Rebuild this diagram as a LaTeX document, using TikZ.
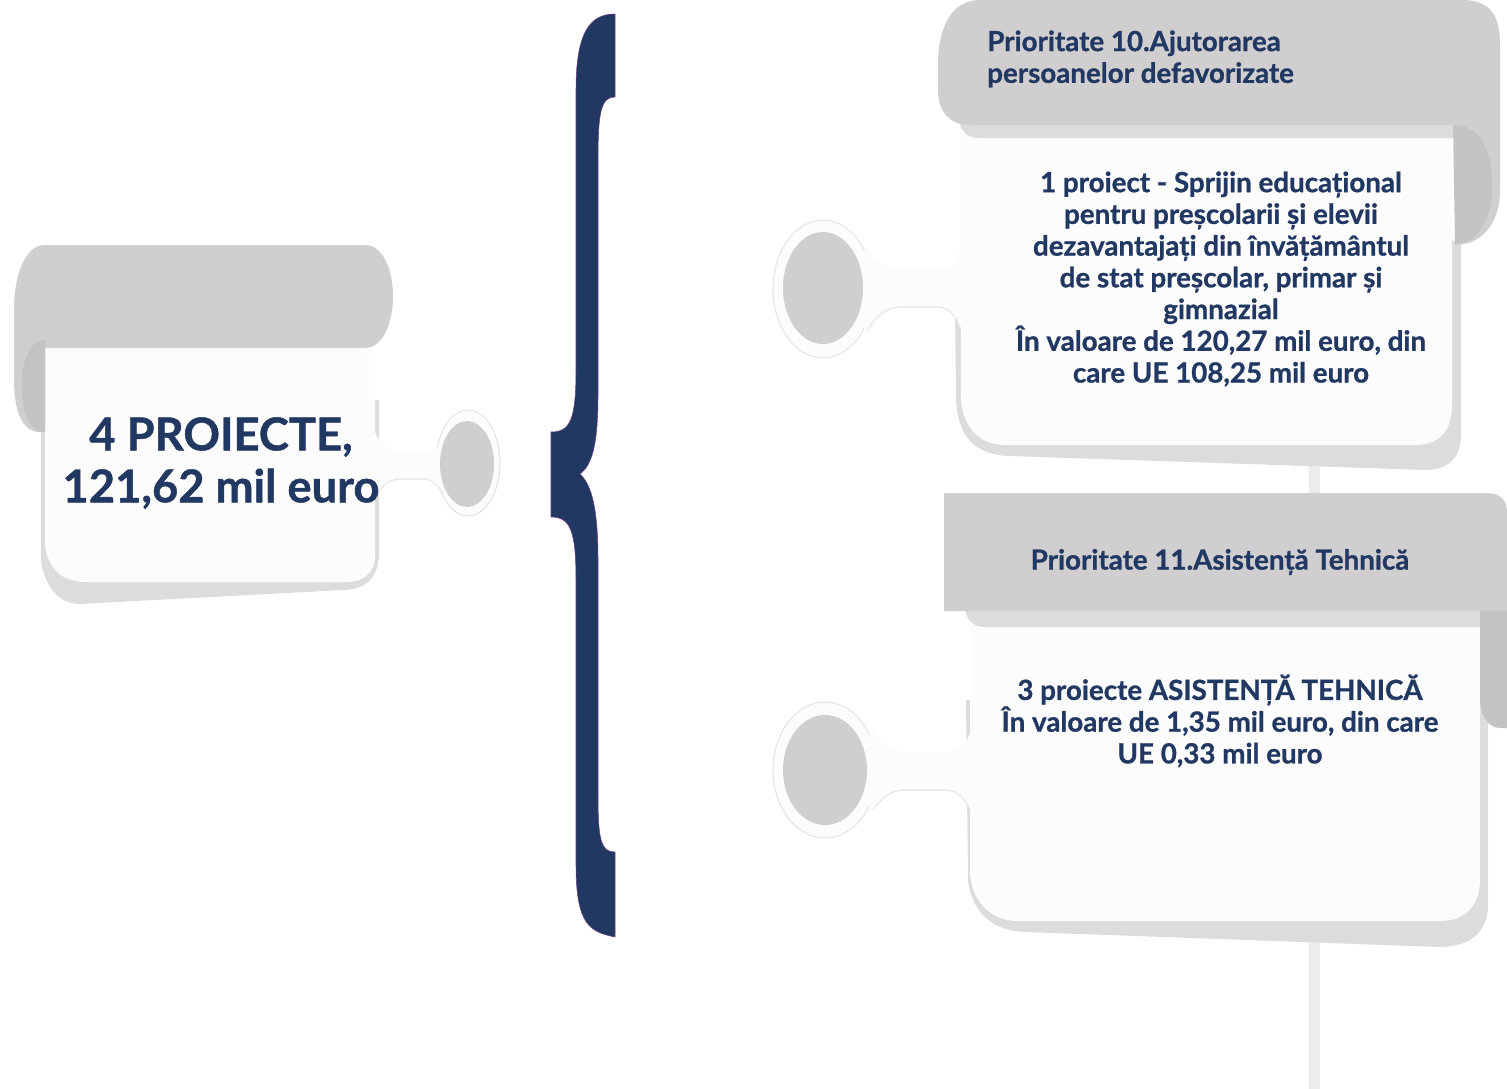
\documentclass[tikz,border=0pt]{standalone}
\usepackage{fontspec}
\setmainfont{Lato}[BoldFeatures={FakeBold=0.9}]
\usepackage{tikz}
\usetikzlibrary{positioning}
\usepackage{color}

\definecolor{navy}{RGB}{33,56,99}
\definecolor{bracerim}{RGB}{110,60,130}
\definecolor{rollgray}{RGB}{208,206,207}
\definecolor{curlgray}{RGB}{196,195,196}
\definecolor{shadegray}{RGB}{220,220,220}
\definecolor{paperwhite}{RGB}{252,252,252}
\definecolor{ringline}{RGB}{228,228,228}
\definecolor{trackgray}{RGB}{236,236,236}

\tikzset{
  scrollroll/.style={fill=rollgray},
  scrollcurl/.style={fill=curlgray},
  scrollshade/.style={fill=shadegray},
  scrollpaper/.style={fill=paperwhite},
  knobring/.style={fill=paperwhite, draw=ringline, line width=0.8pt},
  knobcore/.style={fill=rollgray},
  knobedge/.style={draw=ringline, line width=0.8pt},
  scrolltext/.style={text=navy, inner sep=0pt, align=center,
    font=\bfseries\fontsize{20.8}{23.8}\selectfont}
}

\begin{document}
\begin{tikzpicture}[x=0.75pt, y=-0.75pt]
\useasboundingbox (0,0) rectangle (1507,1089);

% track behind the right scrolls
\path [fill=trackgray] (1309,440) rectangle (1320,1089);

% left scroll
\path [scrollshade] (41,400) -- (379,400) -- (379,555) .. controls (378,578) and (365,590) .. (343,590) -- (80,604) .. controls (58,604) and (44,585) .. (41,560) -- cycle;
\path [scrollpaper] (45,345) -- (375,345) -- (375,555) .. controls (375,572) and (365,582) .. (345,582) -- (85,582) .. controls (60,582) and (45,565) .. (45,540) -- cycle;
\path [scrollroll] (45,245) -- (365,245) .. controls (382,245) and (393,268) .. (393,296) .. controls (393,325) and (382,348) .. (365,348) -- (45,348) -- (45,432) -- (40,432) .. controls (24,432) and (14,415) .. (14,380) -- (14,310) .. controls (14,275) and (25,245) .. (45,245) -- cycle;
\path [scrollcurl] (45,340) .. controls (30,340) and (22,360) .. (22,385) .. controls (22,415) and (30,432) .. (45,432) -- cycle;

\draw [knobring] (468,463) ellipse [x radius=32, y radius=53];
\path [scrollpaper] (373,428) .. controls (380,446) and (390,451) .. (405,451) -- (425,451) .. controls (435,451) and (440,446) .. (444,440) -- (455,463) -- (444,496) .. controls (438,485) and (432,479) .. (425,479) -- (400,479) .. controls (390,479) and (382,486) .. (376,496) -- cycle;
\draw [knobedge] (377,494) .. controls (383,485) and (390,479) .. (400,479) -- (425,479) .. controls (432,479) and (438,485) .. (443,494);
\path [knobcore] (467,464) ellipse [x radius=27, y radius=43];

% priority 10 scroll
\path [scrollshade] (955,300) -- (1461,240) -- (1461,435) .. controls (1461,458) and (1448,470) .. (1425,470) -- (1010,456) .. controls (978,455) and (958,440) .. (956,400) -- cycle;
\path [scrollpaper] (960,136) -- (1452,136) -- (1452,405) .. controls (1452,430) and (1440,445) .. (1415,445) -- (1005,445) .. controls (978,445) and (961,425) .. (961,395) -- cycle;
\path [scrollshade] (965,118) -- (1455,118) -- (1455,138) -- (978,138) .. controls (968,138) and (962,132) .. (960,124) -- cycle;
\path [scrollroll] (980,0) -- (1462,0) .. controls (1490,0) and (1500,15) .. (1500,45) -- (1500,190) .. controls (1500,225) and (1480,245) .. (1455,245) -- (1455,125) -- (970,125) .. controls (950,125) and (938,112) .. (938,90) -- (938,65) .. controls (938,30) and (950,0) .. (980,0) -- cycle;
\path [scrollcurl] (1453,125) .. controls (1480,125) and (1492,150) .. (1492,185) .. controls (1492,220) and (1478,243) .. (1455,244) -- cycle;

\draw [knobring] (823,289) ellipse [x radius=50, y radius=69];
\path [scrollpaper] (962,245) .. controls (957,263) and (950,270) .. (938,270) -- (900,270) .. controls (886,270) and (876,260) .. (866,246) -- (850,289) -- (866,334) .. controls (876,316) and (886,307) .. (900,307) -- (938,307) .. controls (950,307) and (957,318) .. (962,334) -- cycle;
\draw [knobedge] (867,331) .. controls (876,316) and (886,307) .. (900,307) -- (938,307) .. controls (950,307) and (957,318) .. (961,330);
\path [knobcore] (823,288) ellipse [x radius=40, y radius=56];

% priority 11 scroll
\path [scrollshade] (966,700) -- (1488,700) -- (1488,905) .. controls (1488,930) and (1472,947) .. (1440,947) -- (1025,932) .. controls (995,931) and (972,915) .. (968,880) -- cycle;
\path [scrollpaper] (970,624) -- (1480,624) -- (1480,880) .. controls (1480,905) and (1465,921) .. (1440,921) -- (1018,921) .. controls (990,921) and (970,900) .. (970,870) -- cycle;
\path [scrollshade] (975,609) -- (1480,609) -- (1480,627) -- (985,627) .. controls (972,627) and (966,618) .. (965,609) -- cycle;
\path [scrollroll] (944,493) -- (1487,493) .. controls (1500,493) and (1507,500) .. (1507,512) -- (1507,611) -- (944,611) -- cycle;
\path [scrollcurl] (1480,611) -- (1507,611) -- (1507,728) -- (1500,728) .. controls (1488,728) and (1480,715) .. (1480,700) -- cycle;

\draw [knobring] (825,770) ellipse [x radius=52, y radius=68];
\path [scrollpaper] (972,728) .. controls (966,745) and (960,752) .. (945,752) -- (905,752) .. controls (892,752) and (882,742) .. (872,728) -- (855,770) -- (872,812) .. controls (882,797) and (892,790) .. (905,790) -- (945,790) .. controls (958,790) and (966,800) .. (972,815) -- cycle;
\draw [knobedge] (873,810) .. controls (882,797) and (892,790) .. (905,790) -- (945,790) .. controls (958,790) and (966,800) .. (970,810);
\path [knobcore] (825,770) ellipse [x radius=42, y radius=55];

% brace
\draw [fill=navy, draw=bracerim, line width=0.4pt] (615,14) -- (615,97) .. controls (601,97) and (598,112) .. (598,160) -- (598,395) .. controls (598,445) and (592,465) .. (580,474) .. controls (592,485) and (598,510) .. (598,560) -- (598,795) .. controls (598,840) and (601,852) .. (615,852) -- (615,937) .. controls (590,932) and (576,925) .. (576,865) -- (576,580) .. controls (576,530) and (570,517) .. (551,517) -- (551,432) .. controls (570,432) and (576,420) .. (576,370) -- (576,90) .. controls (576,32) and (590,14) .. (615,14) -- cycle;

% texts
\node [scrolltext, font=\bfseries\fontsize{34}{39}\selectfont] (total) at (221,463) {4 PROIECTE,\\121,62 mil euro};
\node [scrolltext, align=left, anchor=west] (p10head) at (987,59) {Prioritate 10.Ajutorarea\\persoanelor defavorizate};
\node [scrolltext] (p10body) at (1221,279) {1 proiect - Sprijin educațional\\pentru preșcolarii și elevii\\dezavantajați din învățământul\\de stat preșcolar, primar și\\gimnazial\\În valoare de 120,27 mil euro, din\\care UE 108,25 mil euro};
\node [scrolltext] (p11head) at (1220,562) {Prioritate 11.Asistență Tehnică};
\node [scrolltext] (p11body) at (1220,721) {3 proiecte ASISTENȚĂ TEHNICĂ\\În valoare de 1,35 mil euro, din care\\UE 0,33 mil euro};
\end{tikzpicture}
\end{document}
